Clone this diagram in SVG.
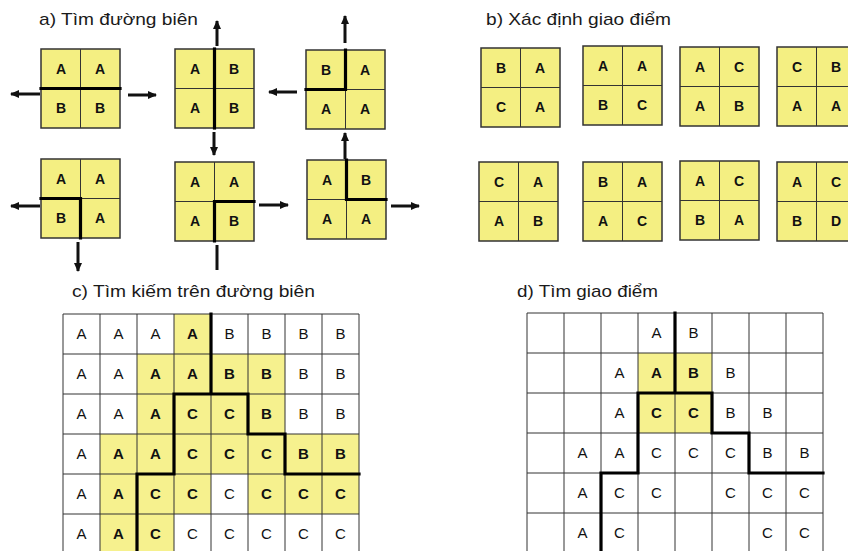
<svg xmlns="http://www.w3.org/2000/svg" width="848" height="551" viewBox="0 0 848 551">
<style>
.title{font-family:"Liberation Sans",Arial,sans-serif;font-size:17px;fill:#1a1a1a}
.tl{font-family:"Liberation Sans",Arial,sans-serif;font-size:14px;font-weight:bold;fill:#111;text-anchor:middle}
.gl{font-family:"Liberation Sans",Arial,sans-serif;font-size:15px;fill:#111;text-anchor:middle}
.gb{font-weight:bold}
.tile{fill:#f4ef82;stroke:#333;stroke-width:1.5}
.thin{stroke:#333;stroke-width:1;fill:none}
.thick{stroke:#000;stroke-width:3.2;fill:none;stroke-linecap:square}
.arr{stroke:#111;stroke-width:3;fill:none}
.yc{fill:#f6f18e}
</style>
<defs>
<marker id="ah" markerUnits="userSpaceOnUse" markerWidth="9" markerHeight="8" refX="8" refY="4" orient="auto">
<path d="M0,0 L9,4 L0,8 z" fill="#111"/>
</marker>
<g id="tbase">
<rect class="tile" x="0" y="0" width="79" height="79"/>
<path class="thin" d="M39.5,0 V79 M0,39.5 H79"/>
</g>
</defs>
<rect width="848" height="551" fill="#fff"/>

<text class="title" x="39" y="25" textLength="159" lengthAdjust="spacingAndGlyphs">a) Tìm đường biên</text>
<text class="title" x="486" y="25" textLength="185" lengthAdjust="spacingAndGlyphs">b) Xác định giao điểm</text>
<text class="title" x="72" y="297" textLength="243" lengthAdjust="spacingAndGlyphs">c) Tìm kiếm trên đường biên</text>
<text class="title" x="517" y="297" textLength="141" lengthAdjust="spacingAndGlyphs">d) Tìm giao điểm</text>

<!-- panel a tiles -->
<g id="a1" transform="translate(41,49)">
<use href="#tbase"/>
<text class="tl" x="20" y="25">A</text><text class="tl" x="59" y="25">A</text>
<text class="tl" x="20" y="64">B</text><text class="tl" x="59" y="64">B</text>
<path class="thick" d="M0,39.5 H79"/>
</g>
<g id="a2" transform="translate(175,49)">
<use href="#tbase"/>
<text class="tl" x="20" y="25">A</text><text class="tl" x="59" y="25">B</text>
<text class="tl" x="20" y="64">A</text><text class="tl" x="59" y="64">B</text>
<path class="thick" d="M39.5,0 V79"/>
</g>
<g id="a3" transform="translate(306,50)">
<use href="#tbase"/>
<text class="tl" x="20" y="25">B</text><text class="tl" x="59" y="25">A</text>
<text class="tl" x="20" y="64">A</text><text class="tl" x="59" y="64">A</text>
<path class="thick" d="M39.5,0 V39.5 H0"/>
</g>
<g id="a4" transform="translate(41,159)">
<use href="#tbase"/>
<text class="tl" x="20" y="25">A</text><text class="tl" x="59" y="25">A</text>
<text class="tl" x="20" y="64">B</text><text class="tl" x="59" y="64">A</text>
<path class="thick" d="M0,39.5 H39.5 V79"/>
</g>
<g id="a5" transform="translate(175,162)">
<use href="#tbase"/>
<text class="tl" x="20" y="25">A</text><text class="tl" x="59" y="25">A</text>
<text class="tl" x="20" y="64">A</text><text class="tl" x="59" y="64">B</text>
<path class="thick" d="M39.5,79 V39.5 H79"/>
</g>
<g id="a6" transform="translate(307,160)">
<use href="#tbase"/>
<text class="tl" x="20" y="25">A</text><text class="tl" x="59" y="25">B</text>
<text class="tl" x="20" y="64">A</text><text class="tl" x="59" y="64">A</text>
<path class="thick" d="M39.5,0 V39.5 H79"/>
</g>

<!-- panel b tiles -->
<g id="b1" transform="translate(481,48)">
<use href="#tbase"/>
<text class="tl" x="20" y="25">B</text><text class="tl" x="59" y="25">A</text>
<text class="tl" x="20" y="64">C</text><text class="tl" x="59" y="64">A</text>
</g>
<g id="b2" transform="translate(583,46)">
<use href="#tbase"/>
<text class="tl" x="20" y="25">A</text><text class="tl" x="59" y="25">A</text>
<text class="tl" x="20" y="64">B</text><text class="tl" x="59" y="64">C</text>
</g>
<g id="b3" transform="translate(680,47)">
<use href="#tbase"/>
<text class="tl" x="20" y="25">A</text><text class="tl" x="59" y="25">C</text>
<text class="tl" x="20" y="64">A</text><text class="tl" x="59" y="64">B</text>
</g>
<g id="b4" transform="translate(777,47)">
<use href="#tbase"/>
<text class="tl" x="20" y="25">C</text><text class="tl" x="59" y="25">B</text>
<text class="tl" x="20" y="64">A</text><text class="tl" x="59" y="64">A</text>
</g>
<g id="b5" transform="translate(479,162)">
<use href="#tbase"/>
<text class="tl" x="20" y="25">C</text><text class="tl" x="59" y="25">A</text>
<text class="tl" x="20" y="64">A</text><text class="tl" x="59" y="64">B</text>
</g>
<g id="b6" transform="translate(583,162)">
<use href="#tbase"/>
<text class="tl" x="20" y="25">B</text><text class="tl" x="59" y="25">A</text>
<text class="tl" x="20" y="64">A</text><text class="tl" x="59" y="64">C</text>
</g>
<g id="b7" transform="translate(680,161)">
<use href="#tbase"/>
<text class="tl" x="20" y="25">A</text><text class="tl" x="59" y="25">C</text>
<text class="tl" x="20" y="64">B</text><text class="tl" x="59" y="64">A</text>
</g>
<g id="b8" transform="translate(777,162)">
<use href="#tbase"/>
<text class="tl" x="20" y="25">A</text><text class="tl" x="59" y="25">C</text>
<text class="tl" x="20" y="64">B</text><text class="tl" x="59" y="64">D</text>
</g>

<!-- connectors (arrows) -->
<g id="arrows">
<line class="arr" x1="40" y1="94" x2="11" y2="94" marker-end="url(#ah)"/>
<line class="arr" x1="128" y1="95" x2="156" y2="95" marker-end="url(#ah)"/>
<line class="arr" x1="217" y1="46" x2="217" y2="21" marker-end="url(#ah)"/>
<line class="arr" x1="214" y1="132" x2="214" y2="155" marker-end="url(#ah)"/>
<line class="arr" x1="345" y1="43" x2="345" y2="16" marker-end="url(#ah)"/>
<line class="arr" x1="297" y1="92" x2="269" y2="92" marker-end="url(#ah)"/>
<line class="arr" x1="345" y1="159" x2="345" y2="133" marker-end="url(#ah)"/>
<line class="arr" x1="40" y1="206" x2="11" y2="206" marker-end="url(#ah)"/>
<line class="arr" x1="78" y1="242" x2="78" y2="271" marker-end="url(#ah)"/>
<line class="arr" x1="259" y1="205" x2="288" y2="205" marker-end="url(#ah)"/>
<line class="arr" x1="217" y1="245" x2="217" y2="270"/>
<line class="arr" x1="391" y1="206" x2="419" y2="206" marker-end="url(#ah)"/>
</g>

<!-- panel c grid -->
<g id="gridC">
<g>
<rect class="yc" x="174" y="314" width="37" height="40"/>
<rect class="yc" x="137" y="354" width="148" height="40"/>
<rect class="yc" x="137" y="394" width="148" height="40"/>
<rect class="yc" x="100" y="434" width="259" height="40"/>
<rect class="yc" x="100" y="474" width="111" height="40"/>
<rect class="yc" x="248" y="474" width="111" height="40"/>
<rect class="yc" x="100" y="514" width="74" height="40"/>
</g>
<path class="thin" d="M63,314 V551 M100,314 V551 M137,314 V551 M174,314 V551 M211,314 V551 M248,314 V551 M285,314 V551 M322,314 V551 M359,314 V551 M63,314 H359 M63,354 H359 M63,394 H359 M63,434 H359 M63,474 H359 M63,514 H359"/>
<path class="thick" d="M211,314 V394 M359,474 H285 V434 H248 V394 H174 V474 H137 V556"/>
<g class="gl">
<text x="81.5" y="339">A</text><text x="118.5" y="339">A</text><text x="155.5" y="339">A</text><text class="gb" x="192.5" y="339">A</text><text x="229.5" y="339">B</text><text x="266.5" y="339">B</text><text x="303.5" y="339">B</text><text x="340.5" y="339">B</text>
<text x="81.5" y="379">A</text><text x="118.5" y="379">A</text><text class="gb" x="155.5" y="379">A</text><text class="gb" x="192.5" y="379">A</text><text class="gb" x="229.5" y="379">B</text><text class="gb" x="266.5" y="379">B</text><text x="303.5" y="379">B</text><text x="340.5" y="379">B</text>
<text x="81.5" y="419">A</text><text x="118.5" y="419">A</text><text class="gb" x="155.5" y="419">A</text><text class="gb" x="192.5" y="419">C</text><text class="gb" x="229.5" y="419">C</text><text class="gb" x="266.5" y="419">B</text><text x="303.5" y="419">B</text><text x="340.5" y="419">B</text>
<text x="81.5" y="459">A</text><text class="gb" x="118.5" y="459">A</text><text class="gb" x="155.5" y="459">A</text><text class="gb" x="192.5" y="459">C</text><text class="gb" x="229.5" y="459">C</text><text class="gb" x="266.5" y="459">C</text><text class="gb" x="303.5" y="459">B</text><text class="gb" x="340.5" y="459">B</text>
<text x="81.5" y="499">A</text><text class="gb" x="118.5" y="499">A</text><text class="gb" x="155.5" y="499">C</text><text class="gb" x="192.5" y="499">C</text><text x="229.5" y="499">C</text><text class="gb" x="266.5" y="499">C</text><text class="gb" x="303.5" y="499">C</text><text class="gb" x="340.5" y="499">C</text>
<text x="81.5" y="539">A</text><text class="gb" x="118.5" y="539">A</text><text class="gb" x="155.5" y="539">C</text><text x="192.5" y="539">C</text><text x="229.5" y="539">C</text><text x="266.5" y="539">C</text><text x="303.5" y="539">C</text><text x="340.5" y="539">C</text>
</g>
</g>

<!-- panel d grid -->
<g id="gridD">
<rect class="yc" x="638" y="353" width="74" height="80"/>
<path class="thin" d="M527,313 V551 M564,313 V551 M601,313 V551 M638,313 V551 M675,313 V551 M712,313 V551 M749,313 V551 M786,313 V551 M823,313 V551 M527,313 H823 M527,353 H823 M527,393 H823 M527,433 H823 M527,473 H823 M527,513 H823"/>
<path class="thick" d="M675,313 V393 M823,473 H749 V433 H712 V393 H638 V473 H601 V556"/>
<g class="gl">
<text x="656.5" y="338">A</text><text x="693.5" y="338">B</text>
<text x="619.5" y="378">A</text><text class="gb" x="656.5" y="378">A</text><text class="gb" x="693.5" y="378">B</text><text x="730.5" y="378">B</text>
<text x="619.5" y="418">A</text><text class="gb" x="656.5" y="418">C</text><text class="gb" x="693.5" y="418">C</text><text x="730.5" y="418">B</text><text x="767.5" y="418">B</text>
<text x="582.5" y="458">A</text><text x="619.5" y="458">A</text><text x="656.5" y="458">C</text><text x="693.5" y="458">C</text><text x="730.5" y="458">C</text><text x="767.5" y="458">B</text><text x="804.5" y="458">B</text>
<text x="582.5" y="498">A</text><text x="619.5" y="498">C</text><text x="656.5" y="498">C</text><text x="730.5" y="498">C</text><text x="767.5" y="498">C</text><text x="804.5" y="498">C</text>
<text x="582.5" y="538">A</text><text x="619.5" y="538">C</text><text x="767.5" y="538">C</text><text x="804.5" y="538">C</text>
</g>
</g>
</svg>
